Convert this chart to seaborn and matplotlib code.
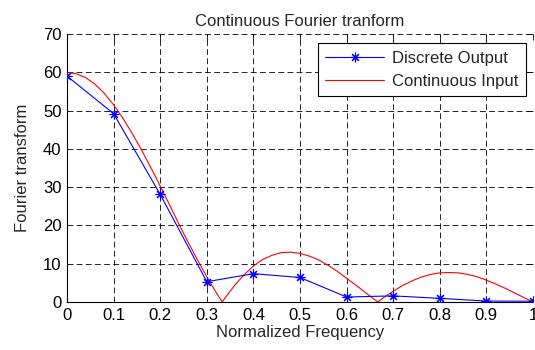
import matplotlib
matplotlib.use("Agg")
import matplotlib.pyplot as plt
import seaborn as sns
import pandas as pd

# Sampled (discrete) transform magnitudes
freq_discrete = [0.0, 0.1, 0.2, 0.3, 0.4, 0.5, 0.6, 0.7, 0.8, 0.9, 1.0]
mag_discrete = [59.0, 49.2, 28.1, 5.3, 7.4, 6.4, 1.3, 1.6, 0.95, 0.25, 0.2]

# Continuous input magnitude, read at a fine frequency step
freq_cont = [0.0, 0.02, 0.04, 0.06, 0.08, 0.10, 0.12, 0.14, 0.16, 0.18,
             0.20, 0.22, 0.24, 0.26, 0.28, 0.30, 0.32, 0.3333, 0.34, 0.36,
             0.38, 0.40, 0.42, 0.44, 0.46, 0.48, 0.50, 0.52, 0.54, 0.56,
             0.58, 0.60, 0.62, 0.64, 0.6667, 0.68, 0.70, 0.72, 0.74, 0.76,
             0.78, 0.80, 0.82, 0.84, 0.86, 0.88, 0.90, 0.92, 0.94, 0.96,
             0.98, 1.00]
mag_cont = [60.0, 59.6, 58.6, 56.9, 54.5, 51.5, 48.0, 44.0, 39.7, 35.1,
            30.3, 25.4, 20.4, 15.6, 11.0, 6.6, 2.5, 0.0, 1.2, 4.4,
            7.1, 9.4, 11.1, 12.2, 12.9, 13.0, 12.7, 12.0, 11.0, 9.6,
            8.0, 6.2, 4.4, 2.5, 0.0, 1.2, 2.8, 4.3, 5.5, 6.5,
            7.2, 7.6, 7.7, 7.6, 7.2, 6.6, 5.7, 4.7, 3.6, 2.4,
            1.2, 0.0]

x_ticks = [0, 0.1, 0.2, 0.3, 0.4, 0.5, 0.6, 0.7, 0.8, 0.9, 1]
x_tick_labels = ["0", "0.1", "0.2", "0.3", "0.4", "0.5", "0.6", "0.7", "0.8", "0.9", "1"]
y_ticks = [0, 10, 20, 30, 40, 50, 60, 70]

df_discrete = pd.DataFrame({"f": freq_discrete, "mag": mag_discrete})
df_cont = pd.DataFrame({"f": freq_cont, "mag": mag_cont})

sns.set_style("white")
plt.rcParams["font.family"] = ["Liberation Sans", "DejaVu Sans"]

FS = 12

fig = plt.figure(figsize=(5.35, 3.5), dpi=100)
ax = fig.add_axes([67 / 535, 1 - 302 / 350, (533 - 67) / 535, (302 - 34) / 350])

sns.lineplot(data=df_discrete, x="f", y="mag", ax=ax, color="#0000ff",
             linewidth=0.8, marker=(8, 2, 0), markersize=7,
             markeredgecolor="#0000ff", markeredgewidth=0.8,
             label="Discrete Output", zorder=3)
sns.lineplot(data=df_cont, x="f", y="mag", ax=ax, color="#ff0000",
             linewidth=0.8, label="Continuous Input", zorder=2)

ax.set_xlim(0, 1)
ax.set_ylim(0, 70)
ax.set_xticks(x_ticks)
ax.set_xticklabels(x_tick_labels)
ax.set_yticks(y_ticks)

ax.grid(True, color="black", linestyle=(0, (7, 4)), linewidth=0.6)
ax.set_axisbelow(True)

for side in ["top", "right"]:
    ax.spines[side].set_visible(False)
for side in ["left", "bottom"]:
    ax.spines[side].set_color("black")
    ax.spines[side].set_linewidth(0.8)

ax.tick_params(direction="in", length=4, width=0.6, colors="black",
               labelsize=FS, top=True, right=True, pad=4)

ax.set_title("Continuous Fourier tranform", fontsize=FS, pad=6)
ax.set_xlabel("Normalized Frequency", fontsize=FS, labelpad=2)
ax.set_ylabel("Fourier transform", fontsize=FS, labelpad=9)

leg = ax.legend(loc="upper right", bbox_to_anchor=(0.985, 0.966),
                borderaxespad=0, fontsize=FS, frameon=True, fancybox=False,
                edgecolor="black", framealpha=1, borderpad=0.45,
                handlelength=3.5, labelspacing=0.5, handletextpad=0.5)
leg.get_frame().set_linewidth(0.8)

fig.savefig("out.png", dpi=100)
